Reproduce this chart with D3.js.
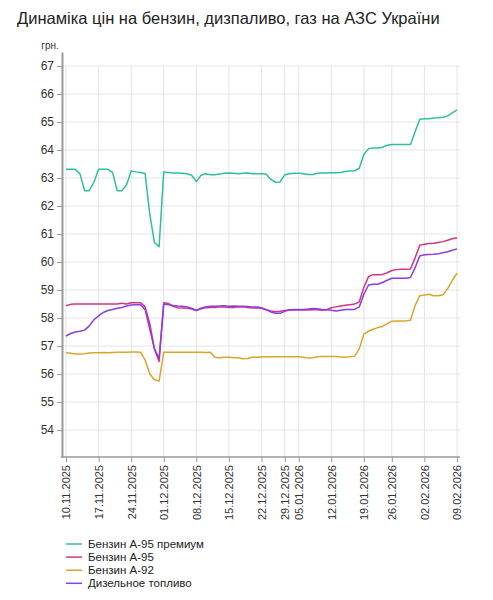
<!DOCTYPE html>
<html>
<head>
<meta charset="utf-8">
<title>Динаміка цін</title>
<script src="https://d3js.org/d3.v7.min.js"></script>
<style>
  body { margin: 0; background: #fff; font-family: "Liberation Sans", Arial, sans-serif; }
  .grid line { stroke: #e4e4e4; stroke-width: 1; }
  .axis text { fill: #333; font-family: "Liberation Sans", Arial, sans-serif; }
  .axis line { stroke: #999; }
  .line { fill: none; stroke-width: 1.5; stroke-linejoin: round; }
</style>
</head>
<body>
<script>
// observation days (holidays / some weekends missing)
var dates = [
  "10.11.2025","11.11.2025","12.11.2025","13.11.2025","14.11.2025","15.11.2025","16.11.2025",
  "17.11.2025","18.11.2025","19.11.2025","20.11.2025","21.11.2025","22.11.2025","23.11.2025",
  "24.11.2025","25.11.2025","26.11.2025","27.11.2025","28.11.2025","29.11.2025","30.11.2025",
  "01.12.2025","02.12.2025","03.12.2025","04.12.2025","05.12.2025","06.12.2025","07.12.2025",
  "08.12.2025","09.12.2025","10.12.2025","11.12.2025","12.12.2025","13.12.2025","14.12.2025",
  "15.12.2025","16.12.2025","17.12.2025","18.12.2025","19.12.2025","20.12.2025","21.12.2025",
  "22.12.2025","23.12.2025","24.12.2025","26.12.2025","27.12.2025",
  "29.12.2025","30.12.2025","02.01.2026",
  "05.01.2026","06.01.2026","07.01.2026","08.01.2026","09.01.2026","10.01.2026","11.01.2026",
  "12.01.2026","13.01.2026","14.01.2026","15.01.2026","16.01.2026","17.01.2026","18.01.2026",
  "19.01.2026","20.01.2026","21.01.2026","22.01.2026","23.01.2026","24.01.2026",
  "26.01.2026","27.01.2026","28.01.2026","29.01.2026","30.01.2026","31.01.2026","01.02.2026",
  "02.02.2026","03.02.2026","04.02.2026","05.02.2026","06.02.2026","07.02.2026","08.02.2026",
  "09.02.2026"
];

var tickDates = ["10.11.2025","17.11.2025","24.11.2025","01.12.2025","08.12.2025","15.12.2025",
  "22.12.2025","29.12.2025","05.01.2026","12.01.2026","19.01.2026","26.01.2026","02.02.2026","09.02.2026"];

var yTicks = [54,55,56,57,58,59,60,61,62,63,64,65,66,67];

var premium95 = [
  63.31,63.31,63.31,63.15,62.55,62.55,62.85,63.31,63.31,63.31,
  63.2,62.55,62.55,62.75,63.25,63.22,63.2,63.16,61.7,60.7,
  60.55,63.22,63.2,63.18,63.18,63.17,63.15,63.1,62.87,63.1,
  63.15,63.12,63.12,63.14,63.17,63.18,63.17,63.15,63.17,63.18,
  63.15,63.15,63.15,63.14,62.95,62.85,62.86,63.12,63.15,63.17,
  63.17,63.15,63.13,63.13,63.17,63.18,63.18,63.19,63.19,63.2,
  63.23,63.25,63.26,63.35,63.85,64.05,64.07,64.07,64.1,64.17,
  64.2,64.2,64.2,64.2,64.2,64.65,65.1,65.12,65.12,65.14,
  65.15,65.17,65.22,65.33,65.43
];

var a95 = [
  58.44,58.49,58.5,58.5,58.5,58.5,58.5,58.5,58.5,58.5,
  58.5,58.5,58.53,58.5,58.55,58.55,58.55,58.4,57.8,56.9,
  56.45,58.55,58.52,58.42,58.37,58.36,58.35,58.32,58.27,58.33,
  58.37,58.38,58.38,58.4,58.4,58.38,58.38,58.4,58.4,58.38,
  58.36,58.37,58.35,58.3,58.25,58.23,58.24,58.27,58.29,58.29,
  58.29,58.29,58.29,58.3,58.3,58.28,58.3,58.37,58.4,58.43,
  58.46,58.48,58.5,58.58,59.1,59.48,59.55,59.55,59.56,59.62,
  59.7,59.73,59.74,59.74,59.75,60.15,60.6,60.64,60.66,60.67,
  60.7,60.73,60.78,60.83,60.87
];

var a92 = [
  56.76,56.74,56.72,56.72,56.73,56.75,56.76,56.76,56.77,56.76,
  56.77,56.78,56.78,56.78,56.79,56.79,56.78,56.5,56.0,55.8,
  55.75,56.78,56.78,56.78,56.78,56.78,56.78,56.78,56.78,56.78,
  56.77,56.78,56.6,56.58,56.6,56.6,56.58,56.58,56.55,56.56,
  56.6,56.6,56.61,56.62,56.62,56.62,56.62,56.62,56.62,56.62,
  56.62,56.6,56.57,56.58,56.62,56.63,56.63,56.63,56.63,56.61,
  56.61,56.62,56.64,56.9,57.43,57.53,57.6,57.66,57.7,57.8,
  57.89,57.9,57.9,57.9,57.92,58.45,58.8,58.82,58.85,58.8,
  58.8,58.83,59.05,59.35,59.6
];

var diesel = [
  57.36,57.45,57.5,57.53,57.57,57.72,57.94,58.08,58.2,58.27,
  58.31,58.35,58.38,58.43,58.47,58.48,58.48,58.3,57.6,56.9,
  56.56,58.5,58.48,58.45,58.43,58.42,58.4,58.35,58.27,58.35,
  58.4,58.42,58.42,58.43,58.44,58.42,58.43,58.42,58.42,58.41,
  58.4,58.4,58.37,58.3,58.22,58.17,58.17,58.24,58.3,58.31,
  58.31,58.31,58.32,58.34,58.33,58.31,58.3,58.28,58.25,58.28,
  58.31,58.31,58.31,58.4,58.85,59.18,59.21,59.21,59.27,59.35,
  59.42,59.42,59.42,59.42,59.45,59.8,60.22,60.26,60.27,60.28,
  60.3,60.33,60.37,60.42,60.47
];

var seriesNames = ["Бензин А-95 премиум","Бензин А-95","Бензин А-92","Дизельное топливо"];
var seriesColors = ["#2fbf9c","#d6337f","#dba52a","#8a3de0"];
var seriesValues = [premium95, a95, a92, diesel];

var svgWidth = 493, svgHeight = 600,
    margin = {top: 52, right: 33, bottom: 143, left: 62},
    plotRight = svgWidth - margin.right,
    plotBottom = svgHeight - margin.bottom;

var xScale = d3.scalePoint()
    .domain(dates)
    .range([margin.left + 4, plotRight - 3]);

var yScale = d3.scaleLinear()
    .domain([53.04, 67.5])
    .range([plotBottom, margin.top]);

var svg = d3.select("body").append("svg")
    .attr("width", svgWidth)
    .attr("height", svgHeight);

svg.append("text")
    .attr("x", 17).attr("y", 24)
    .attr("font-size", "16.5px")
    .attr("fill", "#222")
    .text("Динаміка цін на бензин, дизпаливо, газ на АЗС України");

// grid
var grid = svg.append("g").attr("class", "grid");
grid.selectAll(".hg").data(yTicks).enter().append("line")
    .attr("x1", margin.left).attr("x2", plotRight)
    .attr("y1", d => yScale(d)).attr("y2", d => yScale(d));
grid.selectAll(".vg").data(tickDates).enter().append("line")
    .attr("x1", d => xScale(d)).attr("x2", d => xScale(d))
    .attr("y1", yScale(67)).attr("y2", plotBottom);

// y axis
var yAxis = svg.append("g")
    .attr("class", "axis")
    .attr("transform", "translate(" + margin.left + ",0)")
    .call(d3.axisLeft(yScale).tickValues(yTicks).tickSize(5).tickSizeOuter(0).tickPadding(3));
yAxis.select(".domain").attr("stroke", "#9a9a9a").attr("stroke-width", 2);
yAxis.selectAll("text").attr("font-size", "12px");

svg.append("text")
    .attr("x", 50).attr("y", 49)
    .attr("text-anchor", "middle")
    .attr("font-size", "10px")
    .attr("fill", "#333")
    .text("грн.");

// x axis
var xAxis = svg.append("g")
    .attr("class", "axis")
    .attr("transform", "translate(0," + plotBottom + ")")
    .call(d3.axisBottom(xScale).tickValues(tickDates).tickSize(5).tickSizeOuter(0));
xAxis.select(".domain").remove();
xAxis.selectAll("text")
    .attr("font-size", "11px")
    .attr("transform", "rotate(-90)")
    .attr("text-anchor", "end")
    .attr("x", -8)
    .attr("y", 0)
    .attr("dy", "0.35em");
svg.append("line")
    .attr("x1", margin.left - 1).attr("x2", plotRight)
    .attr("y1", plotBottom).attr("y2", plotBottom)
    .attr("stroke", "#9a9a9a").attr("stroke-width", 1.5);

// lines
var line = d3.line()
    .x((d, i) => xScale(dates[i]))
    .y(d => yScale(d));

svg.selectAll(".line")
    .data(seriesValues).enter().append("path")
    .attr("class", "line")
    .attr("stroke", (d, i) => seriesColors[i])
    .attr("d", line);

// legend
var legend = svg.append("g").attr("transform", "translate(66,544)");
var rows = legend.selectAll("g").data(seriesNames).enter().append("g")
    .attr("transform", (d, i) => "translate(0," + (i * 13.1) + ")");
rows.append("line")
    .attr("x1", 0).attr("x2", 16)
    .attr("stroke", (d, i) => seriesColors[i])
    .attr("stroke-width", 1.5);
rows.append("text")
    .attr("x", 22).attr("dy", "0.35em")
    .attr("font-size", "11.5px")
    .attr("fill", "#222")
    .text(d => d);
</script>
</body>
</html>
